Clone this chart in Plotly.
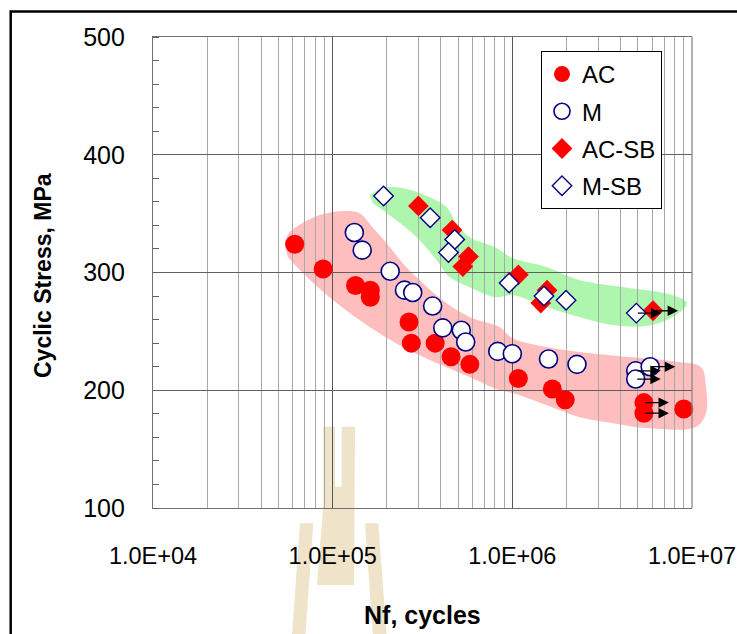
import numpy as np
import plotly.graph_objects as go

# ---------------- data ----------------
series_names = ["AC", "M", "AC-SB", "M-SB"]

ac_n = [6.15e4, 8.85e4, 1.34e5, 1.62e5, 1.62e5, 2.66e5, 2.74e5, 3.72e5, 4.56e5, 5.8e5,
        1.08e6, 1.67e6, 1.97e6, 5.4e6, 5.4e6, 9.0e6]
ac_s = [324, 303, 289, 285, 279, 258, 240, 240, 228.5, 222, 210, 201, 192, 189.5, 180.5, 184]
ac_runout = [0, 0, 0, 0, 0, 0, 0, 0, 0, 0, 0, 0, 0, 1, 1, 1]

m_n = [1.32e5, 1.46e5, 2.09e5, 2.51e5, 2.79e5, 3.6e5, 4.1e5, 5.2e5, 5.5e5, 8.3e5,
       1.0e6, 1.59e6, 2.29e6, 4.86e6, 5.85e6, 4.86e6]
m_s = [334, 319, 301, 285, 283, 271.5, 253, 251, 241, 233, 231, 226.5, 222, 216.5, 220, 209.5]
m_runout = [0, 0, 0, 0, 0, 0, 0, 0, 0, 0, 0, 0, 0, 1, 1, 1]

acsb_n = [3.0e5, 4.62e5, 5.7e5, 5.3e5, 1.08e6, 1.56e6, 1.44e6, 6.07e6]
acsb_s = [356.5, 336, 313.5, 305, 298, 285, 274, 267.5]
acsb_runout = [0, 0, 0, 0, 0, 0, 0, 1]

msb_n = [1.92e5, 3.49e5, 4.78e5, 4.41e5, 9.6e5, 1.5e6, 1.99e6, 4.9e6]
msb_s = [365, 346.5, 328, 317, 291, 280, 276.5, 265.5]
msb_runout = [0, 0, 0, 0, 0, 0, 0, 1]

# highlighted scatter bands (log10 cycles, stress)
red_band_logn = [4.733, 4.761, 4.833, 4.928, 5.056, 5.150, 5.222, 5.300, 5.389, 5.483, 5.611,
                 5.761, 5.928, 6.000, 6.189, 6.372, 6.650, 6.928, 7.050, 7.078, 7.078, 7.022,
                 6.744, 6.556, 6.372, 6.189, 6.000, 5.928, 5.761, 5.578, 5.389, 5.206, 5.022,
                 4.856, 4.750]
red_band_s = [325.1, 334.4, 342.0, 348.8, 352.2, 350.4, 338.5, 325.1, 308.1, 293.6, 276.6,
              262.2, 253.7, 244.4, 236.7, 232.5, 228.2, 224.0, 219.7, 202.8, 180.7, 168.8,
              167.9, 172.2, 177.3, 187.5, 197.7, 200.2, 211.3, 223.1, 236.7, 253.7, 274.1,
              296.2, 313.2]
green_band_logn = [5.206, 5.278, 5.389, 5.539, 5.633, 5.689, 5.761, 5.911, 6.000, 6.189, 6.372,
                   6.650, 6.889, 6.972, 6.928, 6.778, 6.556, 6.372, 6.189, 6.000, 5.900, 5.761,
                   5.650, 5.578, 5.483, 5.389, 5.300, 5.222]
green_band_s = [365.8, 371.8, 371.8, 364.1, 355.6, 342.0, 330.1, 320.8, 312.3, 304.7, 293.6,
                286.8, 280.9, 274.1, 265.6, 255.4, 255.4, 262.2, 270.7, 280.9, 279.2, 287.7,
                296.2, 310.6, 327.6, 340.3, 350.5, 359.0]

x_tickvals = [1e4, 1e5, 1e6, 1e7]
x_ticktext = ["1.0E+04", "1.0E+05", "1.0E+06", "1.0E+07"]
y_tickvals = [100, 200, 300, 400, 500]

# ---------------- layout geometry ----------------
W, H = 737, 634
ML, MR, MT, MB = 153, 25, 37, 126
PW = W - ML - MR           # 559 (extended area for the bands)
AX_W = 539                 # real axis width (1e4..1e7)
PH = H - MT - MB           # 471
px_per_dec = AX_W / 3.0


def P(px, py):
    return (px - ML) / PW, (H - MB - py) / PH


FONT = "Liberation Sans, Arial, sans-serif"

fig = go.Figure()

# bands on the wide (hidden) first subplot
fig.add_trace(go.Scatter(x=[10 ** v for v in red_band_logn], y=red_band_s, mode="lines",
                         line=dict(shape="spline", width=0, color="rgba(255,120,120,0.5)"),
                         fill="toself", fillcolor="rgba(255,125,125,0.5)",
                         showlegend=False, hoverinfo="skip", xaxis="x", yaxis="y"))
fig.add_trace(go.Scatter(x=[10 ** v for v in green_band_logn], y=green_band_s, mode="lines",
                         line=dict(shape="spline", width=0, color="rgba(90,235,90,0.5)"),
                         fill="toself", fillcolor="rgba(100,238,100,0.52)",
                         showlegend=False, hoverinfo="skip", xaxis="x", yaxis="y"))

red = "#FF0000"
navy = "#000080"
fig.add_trace(go.Scatter(x=ac_n, y=ac_s, mode="markers", name="AC", legendrank=1,
                         legendgroup="g1",
                         marker=dict(symbol="circle", size=19, color=red),
                         xaxis="x2", yaxis="y2", cliponaxis=False))
fig.add_trace(go.Scatter(x=acsb_n, y=acsb_s, mode="markers", name="AC-SB", legendrank=3,
                         legendgroup="g3",
                         marker=dict(symbol="diamond", size=16, color=red),
                         xaxis="x2", yaxis="y2", cliponaxis=False))
fig.add_trace(go.Scatter(x=m_n, y=m_s, mode="markers", name="M", legendrank=2,
                         legendgroup="g2",
                         marker=dict(symbol="circle", size=18, color="white",
                                     line=dict(color=navy, width=1.6)),
                         xaxis="x2", yaxis="y2", cliponaxis=False))
fig.add_trace(go.Scatter(x=msb_n, y=msb_s, mode="markers", name="M-SB", legendrank=4,
                         legendgroup="g4",
                         marker=dict(symbol="diamond", size=15, color="white",
                                     line=dict(color=navy, width=1.4)),
                         xaxis="x2", yaxis="y2", cliponaxis=False))

# run-out arrows
annotations = []
arrow_px = 25
for xs, ys, flags in [(ac_n, ac_s, ac_runout), (m_n, m_s, m_runout),
                      (acsb_n, acsb_s, acsb_runout), (msb_n, msb_s, msb_runout)]:
    for xv, yv, f in zip(xs, ys, flags):
        if f:
            annotations.append(dict(x=np.log10(xv) + arrow_px / px_per_dec, y=yv,
                                    xref="x2", yref="y2", ax=-arrow_px, ay=0,
                                    showarrow=True, arrowhead=2, arrowsize=1.6,
                                    arrowwidth=1.3, arrowcolor="black", text="",
                                    standoff=0, startstandoff=0))

tx, ty = P(422, 615)
annotations.append(dict(text="<b>Nf, cycles</b>", x=tx, y=ty, xref="paper", yref="paper",
                        showarrow=False, font=dict(family=FONT, size=25, color="black"),
                        xanchor="center", yanchor="middle"))
tx, ty = P(43, 276)
annotations.append(dict(text="<b>Cyclic Stress, MPa</b>", x=tx, y=ty, xref="paper",
                        yref="paper", showarrow=False, textangle=-90,
                        font=dict(family=FONT, size=23, color="black"),
                        xanchor="center", yanchor="middle"))

# decorative shapes: outer frame and watermark
shapes = []
fx0, fy0 = P(10.7, 11.5)
fx1, fy1 = P(760, 660)
shapes.append(dict(type="rect", xref="paper", yref="paper", x0=fx0, y0=fy0, x1=fx1, y1=fy1,
                   line=dict(color="black", width=2.5), fillcolor="rgba(0,0,0,0)",
                   layer="above"))


def path(pts):
    s = ""
    for i, (a, b) in enumerate(pts):
        u, v = P(a, b)
        s += ("M" if i == 0 else "L") + f"{u:.4f},{v:.4f} "
    return s + "Z"


wm = "#EFE3C9"
for pts in [
    [(323.3, 426.7), (335, 426.7), (335, 486.7), (341.7, 486.7), (341.7, 426.7), (355, 426.7),
     (354, 585), (317, 585), (323.3, 505)],
    [(300, 523.3), (313.3, 523.3), (305, 640), (291.7, 640)],
    [(365, 523.3), (378.3, 523.3), (387, 640), (373.3, 640)],
]:
    shapes.append(dict(type="path", xref="paper", yref="paper", path=path(pts),
                       fillcolor=wm, line=dict(width=0), layer="below"))

# right border of the real axis area
shapes.append(dict(type="line", xref="x2 domain", yref="y2 domain", x0=1, x1=1, y0=0, y1=1,
                   line=dict(color="#808080", width=1.2)))

minor_x = [m * 10 ** e for e in range(4, 7) for m in range(2, 10)]

fig.update_layout(
    width=W, height=H,
    margin=dict(l=ML, r=MR, t=MT, b=MB, autoexpand=False),
    paper_bgcolor="white", plot_bgcolor="rgba(0,0,0,0)",
    font=dict(family=FONT, size=24, color="black"),
    showlegend=True,
    legend=dict(x=P(541, 51)[0], y=P(541, 51)[1], xanchor="left", yanchor="top",
                bgcolor="white", bordercolor="black", borderwidth=1,
                font=dict(family=FONT, size=24, color="black"),
                itemsizing="trace", tracegroupgap=3),
    xaxis=dict(type="log", range=[4, 4 + PW / px_per_dec], domain=[0, 1], visible=False,
               anchor="y", automargin=False),
    yaxis=dict(range=[100, 500], domain=[0, 1], visible=False, anchor="x", automargin=False),
    xaxis2=dict(type="log", range=[4, 7], domain=[0, AX_W / PW], automargin=False,
                anchor="y2", tickvals=x_tickvals, ticktext=x_ticktext, ticks="",
                showgrid=True, gridcolor="#555555", gridwidth=1.2,
                showline=True, linecolor="#707070", linewidth=1.2, mirror=True,
                ticklabelstandoff=27, ticklabeloverflow="allow",
                tickfont=dict(family=FONT, size=23.5, color="black"),
                minor=dict(tickvals=minor_x, showgrid=True, gridcolor="#A8A8A8",
                           gridwidth=1.3, ticks="")),
    yaxis2=dict(range=[100, 500], domain=[0, 1], anchor="x2", side="left", automargin=False,
                tickvals=y_tickvals, ticks="", showgrid=True, gridcolor="#606060",
                gridwidth=1.2, showline=True, linecolor="#707070", linewidth=1.2,
                ticklabelstandoff=22, zeroline=False,
                tickfont=dict(family=FONT, size=25, color="black"),
                minor=dict(dtick=20, ticks="inside", ticklen=6, tickcolor="#606060",
                           tickwidth=1, showgrid=False)),
    annotations=annotations,
    shapes=shapes,
)

fig.write_html("out.html")
